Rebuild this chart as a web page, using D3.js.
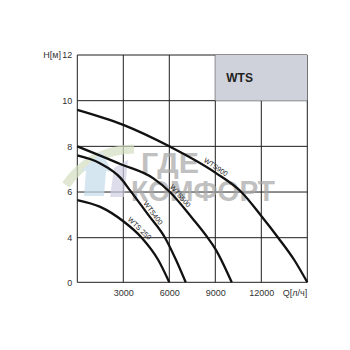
<!DOCTYPE html>
<html>
<head>
<meta charset="utf-8">
<script src="https://cdn.jsdelivr.net/npm/d3@7"></script>
<style>
  body { margin: 0; background: #fff; }
  text { font-family: "Liberation Sans", Arial, sans-serif; }
</style>
</head>
<body>
<svg id="chart"></svg>
<script>
// pump curves, Q in l/h, H in m
const wts900 = [[0, 9.6], [3000, 8.94], [6000, 8.0], [9000, 6.85], [10700, 6.0], [12000, 4.95], [13100, 4.0], [14150, 2.0], [15000, 0]];
const wts500 = [[0, 8.0], [2800, 7.23], [4960, 6.6], [6040, 6.0], [7500, 4.85], [8500, 4.0], [9000, 3.0], [10070, 0]];
const wts400 = [[0, 7.6], [1500, 7.25], [2800, 6.63], [3440, 6.07], [4630, 5.0], [5720, 4.0], [6440, 2.0], [7070, 0]];
const wts250 = [[0, 5.65], [1500, 5.35], [3000, 4.72], [4200, 4.0], [5280, 2.0], [6000, 0]];

const seriesNames = ["WTS900", "WTS500", "WTS400", "WTS 250"];
const labelQ = [8850, 6470, 4680, 3830];

const xTicks = [3000, 6000, 9000, 12000];
const yTicks = [0, 4, 6, 8, 10, 12];
const xGrid = [0, 3000, 6000, 9000, 12000, 15000];

const size = { w: 350, h: 350 };
const svg = d3.select("svg#chart").attr("width", size.w).attr("height", size.h);

const x = d3.scaleLinear().domain([0, 15000]).range([77.3, 307.3]);
// axis is not uniform: 0..4 takes the same room as 4..6
const y = d3.scaleLinear().domain([0, 4, 12]).range([282.3, 237.7, 55]);

const g = svg.append("g");

// grid
g.append("g").selectAll("line").data(yTicks).join("line")
  .attr("x1", x(0)).attr("x2", x(15000))
  .attr("y1", d => y(d)).attr("y2", d => y(d))
  .attr("stroke", "#1e1e1e").attr("stroke-width", 1);
g.append("g").selectAll("line").data(xGrid).join("line")
  .attr("x1", d => x(d)).attr("x2", d => x(d))
  .attr("y1", y(0)).attr("y2", y(12))
  .attr("stroke", "#1e1e1e").attr("stroke-width", 1);

// title box
g.append("rect")
  .attr("x", x(9000)).attr("y", y(12))
  .attr("width", x(15000) - x(9000)).attr("height", y(10) - y(12))
  .attr("fill", "#cfd2db");
g.append("text")
  .attr("x", x(9000) + 11).attr("y", y(11) + 4.5)
  .attr("font-size", 12).attr("font-weight", "bold").attr("fill", "#222")
  .text("WTS");

// faint watermark
const wm = g.append("g").attr("opacity", 0.7);
wm.append("path")
  .attr("d", "M66,185 Q90,150 134,149")
  .attr("fill", "none").attr("stroke", "#d3dfc2").attr("stroke-width", 9);
wm.append("path")
  .attr("d", "M84,196 L86,170 L80,172 L102,152 L112,172 L106,171 L104,196 Z")
  .attr("fill", "#c4dcec");
wm.append("path")
  .attr("d", "M110,197 L114,168 L128,160 L124,197 Z")
  .attr("fill", "#cfcfe4");
const wmText = wm.append("text")
  .attr("font-size", 30).attr("font-weight", "bold").attr("fill", "#a6a6a6");
wmText.append("tspan")
  .attr("x", 141).attr("y", 173)
  .attr("textLength", 58).attr("lengthAdjust", "spacingAndGlyphs")
  .text("ГДЕ");
wmText.append("tspan")
  .attr("x", 131).attr("y", 201)
  .attr("textLength", 144).attr("lengthAdjust", "spacingAndGlyphs")
  .text("КОМФОРТ");

// axes labels
const yAxis = g.append("g")
  .attr("transform", `translate(${x(0)},0)`)
  .call(d3.axisLeft(y).tickValues(yTicks).tickSize(0).tickPadding(5));
const xAxis = g.append("g")
  .attr("transform", `translate(0,${y(0)})`)
  .call(d3.axisBottom(x).tickValues(xTicks).tickFormat(d3.format("d")).tickSize(0).tickPadding(7));
[yAxis, xAxis].forEach(a => {
  a.select(".domain").remove();
  a.selectAll("text").attr("font-size", 9).attr("fill", "#333")
    .style("font-family", "'Liberation Sans', Arial, sans-serif");
});

g.append("text")
  .attr("x", 61).attr("y", y(12) + 3)
  .attr("text-anchor", "end").attr("font-size", 9).attr("fill", "#333")
  .text("Н[м]");
g.append("text")
  .attr("x", x(15000)).attr("y", y(0) + 14)
  .attr("text-anchor", "end").attr("font-size", 9).attr("fill", "#333")
  .text("Q[л/ч]");

// curves
const line = d3.line()
  .x(d => x(d[0]))
  .y(d => y(d[1]))
  .curve(d3.curveMonotoneX);

const curves = [wts900, wts500, wts400, wts250];
const paths = g.append("g").selectAll("path").data(curves).join("path")
  .attr("d", line)
  .attr("fill", "none").attr("stroke", "#111").attr("stroke-width", 2.3);

// labels along the curves
paths.each(function (d, i) {
  const p = this;
  const len = p.getTotalLength();
  const tx = x(labelQ[i]);
  let best = 0, bestD = Infinity;
  for (let s = 0; s <= len; s += 0.5) {
    const pt = p.getPointAtLength(s);
    const dd = Math.abs(pt.x - tx);
    if (dd < bestD) { bestD = dd; best = s; }
  }
  const a = p.getPointAtLength(Math.max(0, best - 3));
  const b = p.getPointAtLength(Math.min(len, best + 3));
  const ang = Math.atan2(b.y - a.y, b.x - a.x);
  const c = p.getPointAtLength(best);
  const off = 5;
  const cx = c.x + off * Math.sin(ang);
  const cy = c.y - off * Math.cos(ang);
  g.append("text")
    .attr("transform", `translate(${cx},${cy}) rotate(${ang * 180 / Math.PI})`)
    .attr("text-anchor", "middle").attr("dy", "0.35em")
    .attr("font-size", 7).attr("fill", "#222")
    .text(seriesNames[i]);
});
</script>
</body>
</html>
